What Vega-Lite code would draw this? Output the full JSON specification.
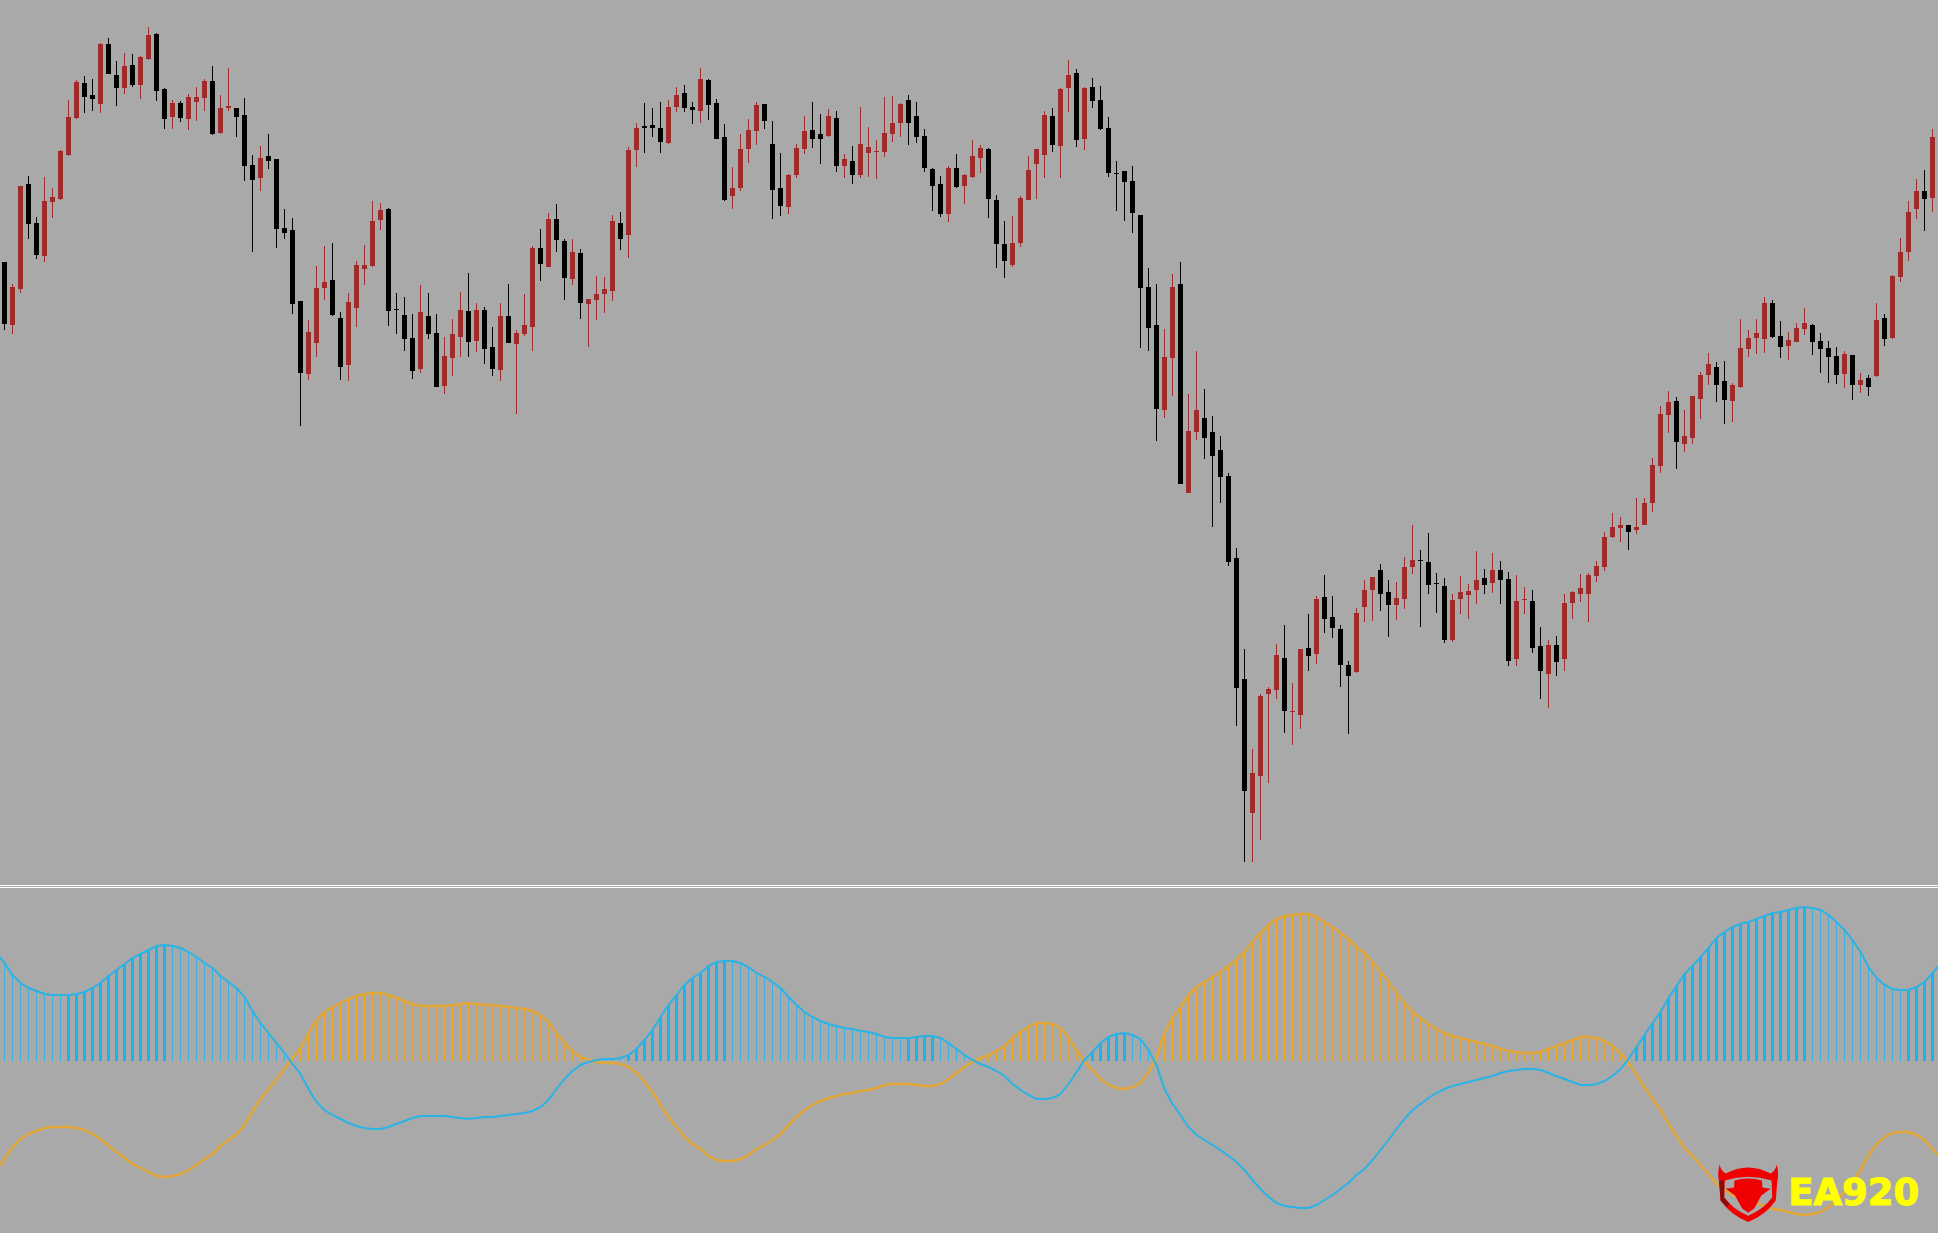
{"$schema":"https://vega.github.io/schema/vega-lite/v6.json","width":1938,"height":1233,"padding":0,"autosize":{"type":"none"},"background":"#a9a9a9","config":{"view":{"stroke":null}},
"datasets":{
"sep":[{"a":-0.5625,"z":241.6875,"p":347.5},{"a":-0.5625,"z":241.6875,"p":345.5}],
"logoMark":[{"i":217.96,"p":40}],
"logoText":[{"i":222.96,"p":28,"name":"EA920"}],
"candles":[
{"i":0,"o":971,"c":909,"h":971,"l":903},{"i":1,"o":908,"c":946,"h":949,"l":899},{"i":2,"o":944,"c":1047,"h":1047,"l":940},{"i":3,"o":1049,"c":1009,"h":1057,"l":994},{"i":4,"o":1010,"c":978,"h":1016,"l":974},{"i":5,"o":977,"c":1032,"h":1056,"l":971},{"i":6,"o":1031,"c":1036,"h":1045,"l":1015},{"i":7,"o":1034,"c":1082,"h":1083,"l":1033},{"i":8,"o":1078,"c":1116,"h":1133,"l":1077},{"i":9,"o":1115,"c":1151,"h":1153,"l":1114},
{"i":10,"o":1150,"c":1136,"h":1157,"l":1120},{"i":11,"o":1138,"c":1134,"h":1154,"l":1122},{"i":12,"o":1129,"c":1189,"h":1190,"l":1120},{"i":13,"o":1189,"c":1159,"h":1195,"l":1159},{"i":14,"o":1158,"c":1145,"h":1172,"l":1127},{"i":15,"o":1145,"c":1167,"h":1180,"l":1139},{"i":16,"o":1168,"c":1148,"h":1179,"l":1146},{"i":17,"o":1148,"c":1176,"h":1177,"l":1134},{"i":18,"o":1174,"c":1198,"h":1206,"l":1173},{"i":19,"o":1199,"c":1142,"h":1200,"l":1132},
{"i":20,"o":1144,"c":1114,"h":1145,"l":1104},{"i":21,"o":1116,"c":1130,"h":1133,"l":1104},{"i":22,"o":1130,"c":1115,"h":1132,"l":1111},{"i":23,"o":1114,"c":1136,"h":1139,"l":1103},{"i":24,"o":1131,"c":1136,"h":1146,"l":1112},{"i":25,"o":1135,"c":1152,"h":1154,"l":1122},{"i":26,"o":1152,"c":1099,"h":1167,"l":1098},{"i":27,"o":1100,"c":1125,"h":1138,"l":1099},{"i":28,"o":1125,"c":1127,"h":1165,"l":1122},{"i":29,"o":1125,"c":1116,"h":1125,"l":1096},
{"i":30,"o":1118,"c":1067,"h":1135,"l":1052},{"i":31,"o":1068,"c":1053,"h":1078,"l":981},{"i":32,"o":1055,"c":1075,"h":1087,"l":1042},{"i":33,"o":1077,"c":1072,"h":1099,"l":1064},{"i":34,"o":1074,"c":1004,"h":1074,"l":985},{"i":35,"o":1005,"c":1000,"h":1024,"l":994},{"i":36,"o":1003,"c":929,"h":1015,"l":919},{"i":37,"o":932,"c":860,"h":932,"l":807},{"i":38,"o":859,"c":901,"h":913,"l":853},{"i":39,"o":890,"c":945,"h":967,"l":876},
{"i":40,"o":945,"c":951,"h":987,"l":933},{"i":41,"o":953,"c":918,"h":990,"l":917},{"i":42,"o":915,"c":866,"h":921,"l":853},{"i":43,"o":868,"c":931,"h":940,"l":852},{"i":44,"o":925,"c":968,"h":972,"l":906},{"i":45,"o":964,"c":968,"h":988,"l":948},{"i":46,"o":967,"c":1012,"h":1032,"l":966},{"i":47,"o":1013,"c":1023,"h":1030,"l":1003},{"i":48,"o":1024,"c":922,"h":1025,"l":907},{"i":49,"o":924,"c":923,"h":940,"l":899},
{"i":50,"o":918,"c":894,"h":936,"l":882},{"i":51,"o":895,"c":862,"h":919,"l":854},{"i":52,"o":864,"c":921,"h":948,"l":860},{"i":53,"o":917,"c":899,"h":940,"l":894},{"i":54,"o":900,"c":846,"h":919,"l":846},{"i":55,"o":847,"c":877,"h":896,"l":839},{"i":56,"o":875,"c":899,"h":914,"l":857},{"i":57,"o":896,"c":923,"h":941,"l":876},{"i":58,"o":922,"c":891,"h":960,"l":876},{"i":59,"o":892,"c":923,"h":930,"l":881},
{"i":60,"o":923,"c":884,"h":926,"l":869},{"i":61,"o":886,"c":864,"h":906,"l":857},{"i":62,"o":863,"c":917,"h":930,"l":852},{"i":63,"o":917,"c":890,"h":949,"l":890},{"i":64,"o":889,"c":900,"h":903,"l":819},{"i":65,"o":899,"c":908,"h":939,"l":897},{"i":66,"o":906,"c":985,"h":987,"l":882},{"i":67,"o":985,"c":969,"h":1004,"l":952},{"i":68,"o":966,"c":1014,"h":1020,"l":966},{"i":69,"o":1014,"c":993,"h":1029,"l":981},
{"i":70,"o":992,"c":955,"h":994,"l":933},{"i":71,"o":954,"c":981,"h":994,"l":948},{"i":72,"o":980,"c":930,"h":984,"l":914},{"i":73,"o":929,"c":934,"h":934,"l":886},{"i":74,"o":933,"c":939,"h":957,"l":913},{"i":75,"o":939,"c":944,"h":956,"l":920},{"i":76,"o":942,"c":1012,"h":1018,"l":932},{"i":77,"o":1010,"c":994,"h":1021,"l":983},{"i":78,"o":998,"c":1083,"h":1086,"l":975},{"i":79,"o":1083,"c":1105,"h":1110,"l":1066},
{"i":80,"o":1107,"c":1105,"h":1130,"l":1080},{"i":81,"o":1108,"c":1105,"h":1125,"l":1096},{"i":82,"o":1105,"c":1091,"h":1131,"l":1080},{"i":83,"o":1090,"c":1126,"h":1133,"l":1089},{"i":84,"o":1126,"c":1138,"h":1146,"l":1121},{"i":85,"o":1140,"c":1125,"h":1148,"l":1121},{"i":86,"o":1126,"c":1123,"h":1131,"l":1109},{"i":87,"o":1122,"c":1154,"h":1165,"l":1110},{"i":88,"o":1153,"c":1128,"h":1154,"l":1113},{"i":89,"o":1130,"c":1094,"h":1134,"l":1094},
{"i":90,"o":1096,"c":1033,"h":1109,"l":1032},{"i":91,"o":1037,"c":1045,"h":1066,"l":1024},{"i":92,"o":1045,"c":1084,"h":1099,"l":1042},{"i":93,"o":1084,"c":1103,"h":1114,"l":1070},{"i":94,"o":1102,"c":1128,"h":1131,"l":1088},{"i":95,"o":1129,"c":1112,"h":1129,"l":1104},{"i":96,"o":1089,"c":1043,"h":1112,"l":1014},{"i":97,"o":1045,"c":1027,"h":1080,"l":1017},{"i":98,"o":1026,"c":1058,"h":1059,"l":1019},{"i":99,"o":1058,"c":1085,"h":1089,"l":1055},
{"i":100,"o":1084,"c":1102,"h":1117,"l":1079},{"i":101,"o":1103,"c":1094,"h":1131,"l":1085},{"i":102,"o":1099,"c":1094,"h":1119,"l":1069},{"i":103,"o":1097,"c":1117,"h":1124,"l":1096},{"i":104,"o":1115,"c":1067,"h":1122,"l":1061},{"i":105,"o":1067,"c":1074,"h":1079,"l":1055},{"i":106,"o":1072,"c":1058,"h":1087,"l":1049},{"i":107,"o":1058,"c":1089,"h":1126,"l":1055},{"i":108,"o":1080,"c":1086,"h":1106,"l":1056},{"i":109,"o":1081,"c":1082,"h":1093,"l":1054},
{"i":110,"o":1081,"c":1100,"h":1136,"l":1076},{"i":111,"o":1099,"c":1110,"h":1137,"l":1091},{"i":112,"o":1110,"c":1129,"h":1130,"l":1096},{"i":113,"o":1133,"c":1110,"h":1138,"l":1088},{"i":114,"o":1117,"c":1096,"h":1131,"l":1090},{"i":115,"o":1097,"c":1065,"h":1104,"l":1061},{"i":116,"o":1064,"c":1047,"h":1065,"l":1022},{"i":117,"o":1049,"c":1019,"h":1057,"l":1016},{"i":118,"o":1019,"c":1065,"h":1067,"l":1011},{"i":119,"o":1065,"c":1046,"h":1079,"l":1045},
{"i":120,"o":1047,"c":1058,"h":1059,"l":1029},{"i":121,"o":1056,"c":1077,"h":1093,"l":1055},{"i":122,"o":1075,"c":1085,"h":1088,"l":1060},{"i":123,"o":1084,"c":1034,"h":1085,"l":1015},{"i":124,"o":1033,"c":989,"h":1038,"l":965},{"i":125,"o":989,"c":972,"h":1012,"l":955},{"i":126,"o":968,"c":990,"h":1017,"l":966},{"i":127,"o":990,"c":1035,"h":1037,"l":986},{"i":128,"o":1033,"c":1063,"h":1077,"l":1033},{"i":129,"o":1069,"c":1084,"h":1084,"l":1034},
{"i":130,"o":1078,"c":1118,"h":1122,"l":1055},{"i":131,"o":1117,"c":1088,"h":1125,"l":1081},{"i":132,"o":1087,"c":1144,"h":1145,"l":1055},{"i":133,"o":1145,"c":1158,"h":1173,"l":1121},{"i":134,"o":1160,"c":1093,"h":1164,"l":1086},{"i":135,"o":1094,"c":1145,"h":1146,"l":1083},{"i":136,"o":1146,"c":1132,"h":1155,"l":1125},{"i":137,"o":1133,"c":1104,"h":1147,"l":1103},{"i":138,"o":1105,"c":1060,"h":1116,"l":1056},{"i":139,"o":1060,"c":1059,"h":1072,"l":1022},
{"i":140,"o":1062,"c":1051,"h":1062,"l":1012},{"i":141,"o":1052,"c":1020,"h":1067,"l":1000},{"i":142,"o":1018,"c":945,"h":1018,"l":885},{"i":143,"o":946,"c":905,"h":965,"l":882},{"i":144,"o":908,"c":824,"h":949,"l":792},{"i":145,"o":823,"c":876,"h":904,"l":815},{"i":146,"o":875,"c":946,"h":959,"l":837},{"i":147,"o":949,"c":749,"h":971,"l":749},{"i":148,"o":740,"c":802,"h":839,"l":740},{"i":149,"o":801,"c":823,"h":882,"l":793},
{"i":150,"o":815,"c":795,"h":844,"l":774},{"i":151,"o":801,"c":777,"h":817,"l":706},{"i":152,"o":783,"c":756,"h":797,"l":730},{"i":153,"o":757,"c":671,"h":760,"l":667},{"i":154,"o":675,"c":545,"h":685,"l":507},{"i":155,"o":554,"c":442,"h":584,"l":371},{"i":156,"o":420,"c":460,"h":484,"l":371},{"i":157,"o":457,"c":537,"h":539,"l":393},{"i":158,"o":539,"c":544,"h":546,"l":450},{"i":159,"o":543,"c":578,"h":589,"l":534},
{"i":160,"o":575,"c":522,"h":608,"l":500},{"i":161,"o":521,"c":522,"h":550,"l":488},{"i":162,"o":518,"c":584,"h":584,"l":504},{"i":163,"o":585,"c":577,"h":619,"l":562},{"i":164,"o":579,"c":634,"h":637,"l":569},{"i":165,"o":636,"c":614,"h":658,"l":600},{"i":166,"o":616,"c":605,"h":637,"l":595},{"i":167,"o":604,"c":568,"h":608,"l":546},{"i":168,"o":568,"c":557,"h":572,"l":499},{"i":169,"o":561,"c":620,"h":625,"l":560},
{"i":170,"o":626,"c":643,"h":653,"l":611},{"i":171,"o":643,"c":656,"h":656,"l":612},{"i":172,"o":663,"c":639,"h":669,"l":622},{"i":173,"o":641,"c":628,"h":653,"l":596},{"i":174,"o":628,"c":635,"h":651,"l":613},{"i":175,"o":634,"c":666,"h":676,"l":624},{"i":176,"o":666,"c":673,"h":708,"l":659},{"i":177,"o":673,"c":672,"h":683,"l":606},{"i":178,"o":671,"c":648,"h":700,"l":639},{"i":179,"o":650,"c":649,"h":660,"l":620},
{"i":180,"o":647,"c":593,"h":655,"l":590},{"i":181,"o":593,"c":633,"h":639,"l":591},{"i":182,"o":634,"c":641,"h":657,"l":619},{"i":183,"o":638,"c":642,"h":649,"l":614},{"i":184,"o":643,"c":653,"h":682,"l":629},{"i":185,"o":655,"c":648,"h":664,"l":639},{"i":186,"o":650,"c":663,"h":680,"l":640},{"i":187,"o":663,"c":653,"h":672,"l":629},{"i":188,"o":654,"c":572,"h":661,"l":567},{"i":189,"o":574,"c":632,"h":658,"l":567},
{"i":190,"o":633,"c":634,"h":646,"l":619},{"i":191,"o":632,"c":585,"h":643,"l":580},{"i":192,"o":587,"c":562,"h":606,"l":534},{"i":193,"o":559,"c":588,"h":593,"l":525},{"i":194,"o":588,"c":571,"h":597,"l":557},{"i":195,"o":574,"c":630,"h":639,"l":562},{"i":196,"o":630,"c":641,"h":642,"l":614},{"i":197,"o":639,"c":645,"h":659,"l":631},{"i":198,"o":639,"c":658,"h":660,"l":611},{"i":199,"o":657,"c":667,"h":672,"l":651},
{"i":200,"o":666,"c":696,"h":701,"l":662},{"i":201,"o":696,"c":706,"h":720,"l":695},{"i":202,"o":705,"c":708,"h":716,"l":691},{"i":203,"o":708,"c":701,"h":708,"l":683},{"i":204,"o":703,"c":706,"h":735,"l":699},{"i":205,"o":708,"c":730,"h":735,"l":708},{"i":206,"o":730,"c":768,"h":775,"l":721},{"i":207,"o":767,"c":819,"h":827,"l":760},{"i":208,"o":818,"c":831,"h":842,"l":800},{"i":209,"o":832,"c":791,"h":836,"l":764},
{"i":210,"o":789,"c":797,"h":823,"l":781},{"i":211,"o":795,"c":837,"h":837,"l":789},{"i":212,"o":834,"c":858,"h":861,"l":814},{"i":213,"o":858,"c":869,"h":880,"l":848},{"i":214,"o":866,"c":848,"h":871,"l":831},{"i":215,"o":852,"c":833,"h":872,"l":809},{"i":216,"o":832,"c":848,"h":850,"l":811},{"i":217,"o":846,"c":885,"h":914,"l":845},{"i":218,"o":884,"c":895,"h":903,"l":876},{"i":219,"o":895,"c":900,"h":914,"l":879},
{"i":220,"o":894,"c":930,"h":936,"l":880},{"i":221,"o":930,"c":896,"h":933,"l":895},{"i":222,"o":897,"c":886,"h":912,"l":875},{"i":223,"o":887,"c":893,"h":901,"l":873},{"i":224,"o":891,"c":905,"h":910,"l":891},{"i":225,"o":904,"c":910,"h":925,"l":898},{"i":226,"o":908,"c":891,"h":909,"l":878},{"i":227,"o":892,"c":884,"h":900,"l":860},{"i":228,"o":885,"c":876,"h":892,"l":850},{"i":229,"o":877,"c":858,"h":886,"l":849},
{"i":230,"o":859,"c":879,"h":882,"l":845},{"i":231,"o":878,"c":848,"h":878,"l":833},{"i":232,"o":848,"c":853,"h":860,"l":840},{"i":233,"o":855,"c":846,"h":858,"l":837},{"i":234,"o":857,"c":913,"h":930,"l":856},{"i":235,"o":915,"c":894,"h":919,"l":887},{"i":236,"o":895,"c":957,"h":958,"l":894},{"i":237,"o":956,"c":981,"h":995,"l":951},{"i":238,"o":981,"c":1021,"h":1032,"l":972},{"i":239,"o":1024,"c":1042,"h":1054,"l":1014},
{"i":240,"o":1042,"c":1034,"h":1063,"l":1002},{"i":241,"o":1035,"c":1096,"h":1104,"l":1021}
],
"osc":[
{"i":-1,"b":108,"o":-108,"t":"dn"},{"i":0,"b":98,"o":-98,"t":"dn"},{"i":1,"b":86,"o":-86,"t":"dn"},{"i":2,"b":78,"o":-78,"t":"dn"},{"i":3,"b":73,"o":-73,"t":"dn"},{"i":4,"b":70,"o":-70,"t":"dn"},{"i":5,"b":67,"o":-67,"t":"dn"},{"i":6,"b":66,"o":-66,"t":"dn"},{"i":7,"b":66,"o":-66,"t":"dn"},{"i":8,"b":66,"o":-66,"t":"up"},{"i":9,"b":67,"o":-67,"t":"up"},
{"i":10,"b":69,"o":-69,"t":"up"},{"i":11,"b":73,"o":-73,"t":"up"},{"i":12,"b":78,"o":-78,"t":"up"},{"i":13,"b":85,"o":-85,"t":"up"},{"i":14,"b":91,"o":-91,"t":"up"},{"i":15,"b":97,"o":-97,"t":"up"},{"i":16,"b":103,"o":-103,"t":"up"},{"i":17,"b":107,"o":-107,"t":"up"},{"i":18,"b":111,"o":-111,"t":"up"},{"i":19,"b":115,"o":-115,"t":"up"},
{"i":20,"b":116,"o":-116,"t":"up"},{"i":21,"b":115,"o":-115,"t":"dn"},{"i":22,"b":113,"o":-113,"t":"dn"},{"i":23,"b":109,"o":-109,"t":"dn"},{"i":24,"b":104,"o":-104,"t":"dn"},{"i":25,"b":98,"o":-98,"t":"dn"},{"i":26,"b":93,"o":-93,"t":"dn"},{"i":27,"b":85,"o":-85,"t":"dn"},{"i":28,"b":79,"o":-79,"t":"dn"},{"i":29,"b":73,"o":-73,"t":"dn"},
{"i":30,"b":64,"o":-64,"t":"dn"},{"i":31,"b":50,"o":-50,"t":"dn"},{"i":32,"b":38,"o":-38,"t":"dn"},{"i":33,"b":28,"o":-28,"t":"dn"},{"i":34,"b":18,"o":-18,"t":"dn"},{"i":35,"b":8,"o":-8,"t":"dn"},{"i":36,"b":-3,"o":3,"t":"dn"},{"i":37,"b":-13,"o":13,"t":"up"},{"i":38,"b":-28,"o":28,"t":"up"},{"i":39,"b":-41,"o":41,"t":"up"},
{"i":40,"b":-49,"o":49,"t":"up"},{"i":41,"b":-54,"o":54,"t":"up"},{"i":42,"b":-58,"o":58,"t":"up"},{"i":43,"b":-62,"o":62,"t":"up"},{"i":44,"b":-65,"o":65,"t":"up"},{"i":45,"b":-67,"o":67,"t":"up"},{"i":46,"b":-68,"o":68,"t":"up"},{"i":47,"b":-68,"o":68,"t":"dn"},{"i":48,"b":-66,"o":66,"t":"dn"},{"i":49,"b":-63,"o":63,"t":"dn"},
{"i":50,"b":-60,"o":60,"t":"dn"},{"i":51,"b":-57,"o":57,"t":"dn"},{"i":52,"b":-55,"o":55,"t":"dn"},{"i":53,"b":-55,"o":55,"t":"dn"},{"i":54,"b":-55,"o":55,"t":"dn"},{"i":55,"b":-55,"o":55,"t":"up"},{"i":56,"b":-56,"o":56,"t":"up"},{"i":57,"b":-57,"o":57,"t":"up"},{"i":58,"b":-58,"o":58,"t":"up"},{"i":59,"b":-57,"o":57,"t":"dn"},
{"i":60,"b":-56,"o":56,"t":"dn"},{"i":61,"b":-56,"o":56,"t":"dn"},{"i":62,"b":-55,"o":55,"t":"dn"},{"i":63,"b":-54,"o":54,"t":"dn"},{"i":64,"b":-53,"o":53,"t":"dn"},{"i":65,"b":-52,"o":52,"t":"dn"},{"i":66,"b":-50,"o":50,"t":"dn"},{"i":67,"b":-46,"o":46,"t":"dn"},{"i":68,"b":-39,"o":39,"t":"dn"},{"i":69,"b":-28,"o":28,"t":"dn"},
{"i":70,"b":-18,"o":18,"t":"dn"},{"i":71,"b":-10,"o":10,"t":"dn"},{"i":72,"b":-4,"o":4,"t":"dn"},{"i":73,"b":-1,"o":1,"t":"dn"},{"i":74,"b":1,"o":-1,"t":"dn"},{"i":75,"b":2,"o":-2,"t":"dn"},{"i":76,"b":2,"o":-2,"t":"dn"},{"i":77,"b":3,"o":-3,"t":"dn"},{"i":78,"b":6,"o":-6,"t":"up"},{"i":79,"b":12,"o":-12,"t":"up"},
{"i":80,"b":21,"o":-21,"t":"up"},{"i":81,"b":31,"o":-31,"t":"up"},{"i":82,"b":44,"o":-44,"t":"up"},{"i":83,"b":56,"o":-56,"t":"up"},{"i":84,"b":66,"o":-66,"t":"up"},{"i":85,"b":76,"o":-76,"t":"up"},{"i":86,"b":83,"o":-83,"t":"up"},{"i":87,"b":88,"o":-88,"t":"up"},{"i":88,"b":95,"o":-95,"t":"up"},{"i":89,"b":99,"o":-99,"t":"up"},
{"i":90,"b":100,"o":-100,"t":"up"},{"i":91,"b":100,"o":-100,"t":"dn"},{"i":92,"b":98,"o":-98,"t":"dn"},{"i":93,"b":94,"o":-94,"t":"dn"},{"i":94,"b":88,"o":-88,"t":"dn"},{"i":95,"b":84,"o":-84,"t":"dn"},{"i":96,"b":79,"o":-79,"t":"dn"},{"i":97,"b":73,"o":-73,"t":"dn"},{"i":98,"b":64,"o":-64,"t":"dn"},{"i":99,"b":56,"o":-56,"t":"dn"},
{"i":100,"b":49,"o":-49,"t":"dn"},{"i":101,"b":44,"o":-44,"t":"dn"},{"i":102,"b":40,"o":-40,"t":"dn"},{"i":103,"b":37,"o":-37,"t":"dn"},{"i":104,"b":35,"o":-35,"t":"dn"},{"i":105,"b":33,"o":-33,"t":"dn"},{"i":106,"b":32,"o":-32,"t":"dn"},{"i":107,"b":30,"o":-30,"t":"dn"},{"i":108,"b":29,"o":-29,"t":"dn"},{"i":109,"b":27,"o":-27,"t":"dn"},
{"i":110,"b":24,"o":-24,"t":"dn"},{"i":111,"b":23,"o":-23,"t":"dn"},{"i":112,"b":23,"o":-23,"t":"dn"},{"i":113,"b":23,"o":-23,"t":"up"},{"i":114,"b":24,"o":-24,"t":"up"},{"i":115,"b":25,"o":-25,"t":"up"},{"i":116,"b":25,"o":-25,"t":"up"},{"i":117,"b":23,"o":-23,"t":"dn"},{"i":118,"b":18,"o":-18,"t":"dn"},{"i":119,"b":12,"o":-12,"t":"dn"},
{"i":120,"b":6,"o":-6,"t":"dn"},{"i":121,"b":1,"o":-1,"t":"dn"},{"i":122,"b":-3,"o":3,"t":"dn"},{"i":123,"b":-6,"o":6,"t":"up"},{"i":124,"b":-10,"o":10,"t":"up"},{"i":125,"b":-15,"o":15,"t":"up"},{"i":126,"b":-23,"o":23,"t":"up"},{"i":127,"b":-29,"o":29,"t":"up"},{"i":128,"b":-34,"o":34,"t":"up"},{"i":129,"b":-38,"o":38,"t":"up"},
{"i":130,"b":-38,"o":38,"t":"up"},{"i":131,"b":-37,"o":37,"t":"dn"},{"i":132,"b":-33,"o":33,"t":"dn"},{"i":133,"b":-23,"o":23,"t":"dn"},{"i":134,"b":-11,"o":11,"t":"dn"},{"i":135,"b":1,"o":-1,"t":"dn"},{"i":136,"b":9,"o":-9,"t":"up"},{"i":137,"b":18,"o":-18,"t":"up"},{"i":138,"b":24,"o":-24,"t":"up"},{"i":139,"b":27,"o":-27,"t":"up"},
{"i":140,"b":28,"o":-28,"t":"up"},{"i":141,"b":26,"o":-26,"t":"dn"},{"i":142,"b":22,"o":-22,"t":"dn"},{"i":143,"b":11,"o":-11,"t":"dn"},{"i":144,"b":-4,"o":4,"t":"up"},{"i":145,"b":-28,"o":28,"t":"up"},{"i":146,"b":-43,"o":43,"t":"up"},{"i":147,"b":-54,"o":54,"t":"up"},{"i":148,"b":-66,"o":66,"t":"up"},{"i":149,"b":-74,"o":74,"t":"up"},
{"i":150,"b":-79,"o":79,"t":"up"},{"i":151,"b":-84,"o":84,"t":"up"},{"i":152,"b":-89,"o":89,"t":"up"},{"i":153,"b":-95,"o":95,"t":"up"},{"i":154,"b":-101,"o":101,"t":"up"},{"i":155,"b":-109,"o":109,"t":"up"},{"i":156,"b":-119,"o":119,"t":"up"},{"i":157,"b":-128,"o":128,"t":"up"},{"i":158,"b":-136,"o":136,"t":"up"},{"i":159,"b":-142,"o":142,"t":"up"},
{"i":160,"b":-145,"o":145,"t":"up"},{"i":161,"b":-146,"o":146,"t":"up"},{"i":162,"b":-147,"o":147,"t":"up"},{"i":163,"b":-147,"o":147,"t":"dn"},{"i":164,"b":-144,"o":144,"t":"dn"},{"i":165,"b":-139,"o":139,"t":"dn"},{"i":166,"b":-134,"o":134,"t":"dn"},{"i":167,"b":-128,"o":128,"t":"dn"},{"i":168,"b":-122,"o":122,"t":"dn"},{"i":169,"b":-114,"o":114,"t":"dn"},
{"i":170,"b":-108,"o":108,"t":"dn"},{"i":171,"b":-99,"o":99,"t":"dn"},{"i":172,"b":-89,"o":89,"t":"dn"},{"i":173,"b":-79,"o":79,"t":"dn"},{"i":174,"b":-68,"o":68,"t":"dn"},{"i":175,"b":-58,"o":58,"t":"dn"},{"i":176,"b":-49,"o":49,"t":"dn"},{"i":177,"b":-43,"o":43,"t":"dn"},{"i":178,"b":-37,"o":37,"t":"dn"},{"i":179,"b":-32,"o":32,"t":"dn"},
{"i":180,"b":-28,"o":28,"t":"dn"},{"i":181,"b":-25,"o":25,"t":"dn"},{"i":182,"b":-23,"o":23,"t":"dn"},{"i":183,"b":-21,"o":21,"t":"dn"},{"i":184,"b":-19,"o":19,"t":"dn"},{"i":185,"b":-17,"o":17,"t":"dn"},{"i":186,"b":-15,"o":15,"t":"dn"},{"i":187,"b":-12,"o":12,"t":"dn"},{"i":188,"b":-10,"o":10,"t":"dn"},{"i":189,"b":-9,"o":9,"t":"dn"},
{"i":190,"b":-8,"o":8,"t":"dn"},{"i":191,"b":-8,"o":8,"t":"dn"},{"i":192,"b":-9,"o":9,"t":"up"},{"i":193,"b":-12,"o":12,"t":"up"},{"i":194,"b":-15,"o":15,"t":"up"},{"i":195,"b":-18,"o":18,"t":"up"},{"i":196,"b":-21,"o":21,"t":"up"},{"i":197,"b":-24,"o":24,"t":"up"},{"i":198,"b":-24,"o":24,"t":"dn"},{"i":199,"b":-23,"o":23,"t":"dn"},
{"i":200,"b":-20,"o":20,"t":"dn"},{"i":201,"b":-15,"o":15,"t":"dn"},{"i":202,"b":-8,"o":8,"t":"dn"},{"i":203,"b":2,"o":-2,"t":"dn"},{"i":204,"b":14,"o":-14,"t":"up"},{"i":205,"b":26,"o":-26,"t":"up"},{"i":206,"b":38,"o":-38,"t":"up"},{"i":207,"b":49,"o":-49,"t":"up"},{"i":208,"b":63,"o":-63,"t":"up"},{"i":209,"b":75,"o":-75,"t":"up"},
{"i":210,"b":87,"o":-87,"t":"up"},{"i":211,"b":95,"o":-95,"t":"up"},{"i":212,"b":104,"o":-104,"t":"up"},{"i":213,"b":113,"o":-113,"t":"up"},{"i":214,"b":123,"o":-123,"t":"up"},{"i":215,"b":129,"o":-129,"t":"up"},{"i":216,"b":134,"o":-134,"t":"up"},{"i":217,"b":137,"o":-137,"t":"up"},{"i":218,"b":139,"o":-139,"t":"up"},{"i":219,"b":142,"o":-142,"t":"up"},
{"i":220,"b":145,"o":-145,"t":"up"},{"i":221,"b":148,"o":-148,"t":"up"},{"i":222,"b":149,"o":-149,"t":"up"},{"i":223,"b":151,"o":-151,"t":"up"},{"i":224,"b":153,"o":-153,"t":"up"},{"i":225,"b":154,"o":-154,"t":"up"},{"i":226,"b":153,"o":-153,"t":"dn"},{"i":227,"b":151,"o":-151,"t":"dn"},{"i":228,"b":146,"o":-146,"t":"dn"},{"i":229,"b":139,"o":-139,"t":"dn"},
{"i":230,"b":131,"o":-131,"t":"dn"},{"i":231,"b":121,"o":-121,"t":"dn"},{"i":232,"b":109,"o":-109,"t":"dn"},{"i":233,"b":94,"o":-94,"t":"dn"},{"i":234,"b":83,"o":-83,"t":"dn"},{"i":235,"b":76,"o":-76,"t":"dn"},{"i":236,"b":72,"o":-72,"t":"dn"},{"i":237,"b":71,"o":-71,"t":"dn"},{"i":238,"b":71,"o":-71,"t":"up"},{"i":239,"b":74,"o":-74,"t":"up"},
{"i":240,"b":79,"o":-79,"t":"up"},{"i":241,"b":88,"o":-88,"t":"up"},{"i":242,"b":97,"o":-97,"t":"up"}
]
},
"encoding":{"x":{"field":"i","type":"quantitative","axis":null,"scale":{"domain":[-0.5625,241.6875],"nice":false,"zero":false,"padding":0}}},
"layer":[
{"data":{"name":"osc"},"transform":[{"filter":"datum.b>0"}],"mark":{"type":"rule","clip":true,"color":"#1fb3ee"},"encoding":{"y":{"field":"b","type":"quantitative","axis":null,"scale":{"domain":[-172,1061],"nice":false,"zero":false}},"y2":{"datum":0},"size":{"field":"t","type":"nominal","legend":null,"scale":{"domain":["up","dn"],"range":[3,1]}},"opacity":{"field":"t","type":"nominal","legend":null,"scale":{"domain":["up","dn"],"range":[1,0.8]}}}},
{"data":{"name":"osc"},"transform":[{"filter":"datum.o>0"}],"mark":{"type":"rule","clip":true,"color":"#eda420"},"encoding":{"y":{"field":"o","type":"quantitative","axis":null,"scale":{"domain":[-172,1061],"nice":false,"zero":false}},"y2":{"datum":0},"size":{"field":"t","type":"nominal","legend":null,"scale":{"domain":["up","dn"],"range":[3,1]}},"opacity":{"field":"t","type":"nominal","legend":null,"scale":{"domain":["up","dn"],"range":[1,0.7]}}}},
{"data":{"name":"osc"},"mark":{"type":"line","clip":true,"color":"#e3a738","strokeWidth":2.5},"encoding":{"y":{"field":"o","type":"quantitative","axis":null,"scale":{"domain":[-172,1061],"nice":false,"zero":false}}}},
{"data":{"name":"osc"},"mark":{"type":"line","clip":true,"color":"#2ab3e6","strokeWidth":2},"encoding":{"y":{"field":"b","type":"quantitative","axis":null,"scale":{"domain":[-172,1061],"nice":false,"zero":false}}}},
{"data":{"name":"candles"},"mark":{"type":"rule","strokeWidth":1},"encoding":{"y":{"field":"h","type":"quantitative","axis":null,"scale":{"domain":[0,1233],"nice":false,"zero":false}},"y2":{"field":"l"},"color":{"condition":{"test":"datum.c>=datum.o","value":"#9f2b2b"},"value":"#000000"}}},
{"data":{"name":"candles"},"mark":{"type":"bar","width":5,"orient":"vertical"},"encoding":{"y":{"field":"o","type":"quantitative","axis":null,"scale":{"domain":[0,1233],"nice":false,"zero":false}},"y2":{"field":"c"},"color":{"condition":{"test":"datum.c>=datum.o","value":"#9f2b2b"},"value":"#000000"}}},
{"data":{"name":"sep"},"mark":{"type":"rule","color":"#ffffff","strokeWidth":1},"encoding":{"x":{"field":"a","type":"quantitative","axis":null},"x2":{"field":"z"},"y":{"field":"p","type":"quantitative","axis":null,"scale":{"domain":[0,1233],"nice":false,"zero":false}}}},
{"data":{"name":"logoMark"},"mark":{"type":"point","filled":true,"opacity":1,"size":3600,"color":"#f00000","strokeWidth":0,"shape":"M-0.95,-0.95 C-1.02,-0.7 -1,-0.5 -0.97,-0.4 L-0.92,0.25 Q-0.6,0.72 0,0.97 Q0.6,0.72 0.92,0.25 L0.97,-0.4 C1,-0.5 1.02,-0.7 0.95,-0.95 Q0.92,-0.75 0.75,-0.65 Q0,-1.05 -0.75,-0.65 Q-0.92,-0.75 -0.95,-0.95 Z M-0.78,-0.42 Q0,-0.66 0.78,-0.42 L0.8,0.15 Q0.5,0.55 0,0.76 Q-0.5,0.55 -0.8,0.15 Z"},"encoding":{"y":{"field":"p","type":"quantitative","axis":null,"scale":{"domain":[0,1233],"nice":false,"zero":false}}}},
{"data":{"name":"logoMark"},"mark":{"type":"point","filled":true,"opacity":1,"size":3600,"color":"#f00000","strokeWidth":0,"shape":"M-0.75,-0.14 L-0.47,-0.18 L-0.46,-0.42 Q0,-0.54 0.46,-0.42 L0.47,-0.18 L0.75,-0.14 L0.44,0.08 L0.2,0.52 L0,0.66 L-0.2,0.52 L-0.44,0.08 Z"},"encoding":{"y":{"field":"p","type":"quantitative","axis":null,"scale":{"domain":[0,1233],"nice":false,"zero":false}}}},
{"data":{"name":"logoMark"},"mark":{"type":"point","filled":true,"opacity":1,"size":3600,"color":"#8a0c0c","strokeWidth":0,"shape":"M-0.97,-0.4 L-0.8,-0.42 L-0.8,0.15 L-0.62,0.36 L-0.72,0.46 L-0.92,0.25 Z"},"encoding":{"y":{"field":"p","type":"quantitative","axis":null,"scale":{"domain":[0,1233],"nice":false,"zero":false}}}},
{"data":{"name":"logoText"},"mark":{"type":"text","align":"left","baseline":"alphabetic","font":"DejaVu Sans","fontWeight":"bold","fontSize":37,"color":"#ffff00","stroke":"#ffff00","strokeWidth":1},"encoding":{"y":{"field":"p","type":"quantitative","axis":null,"scale":{"domain":[0,1233],"nice":false,"zero":false}},"text":{"field":"name","type":"nominal"}}}
],
"resolve":{"scale":{"y":"independent"}}
}
